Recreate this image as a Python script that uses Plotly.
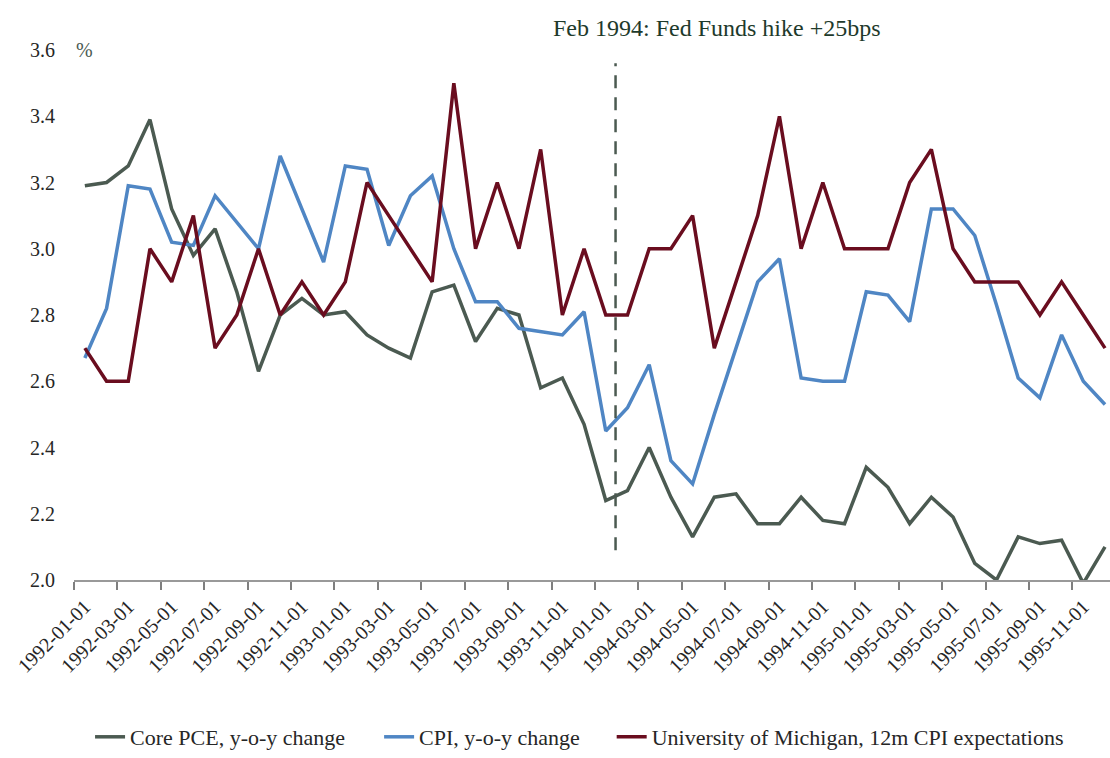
import plotly.graph_objects as go

# ---------------- data ----------------
months = [f"{y}-{m:02d}-01" for y in range(1992, 1996) for m in range(1, 13)]

core_pce = [3.19, 3.20, 3.25, 3.39, 3.12, 2.98, 3.06, 2.87, 2.63, 2.80, 2.85, 2.80,
            2.81, 2.74, 2.70, 2.67, 2.87, 2.89, 2.72, 2.82, 2.80, 2.58, 2.61, 2.47,
            2.24, 2.27, 2.40, 2.25, 2.13, 2.25, 2.26, 2.17, 2.17, 2.25, 2.18, 2.17,
            2.34, 2.28, 2.17, 2.25, 2.19, 2.05, 2.00, 2.13, 2.11, 2.12, 1.99, 2.10]

cpi = [2.67, 2.82, 3.19, 3.18, 3.02, 3.01, 3.16, 3.08, 3.00, 3.28, 3.12, 2.96,
       3.25, 3.24, 3.01, 3.16, 3.22, 3.00, 2.84, 2.84, 2.76, 2.75, 2.74, 2.81,
       2.45, 2.52, 2.65, 2.36, 2.29, 2.50, 2.70, 2.90, 2.97, 2.61, 2.60, 2.60,
       2.87, 2.86, 2.78, 3.12, 3.12, 3.04, 2.83, 2.61, 2.55, 2.74, 2.60, 2.53]

umich = [2.7, 2.6, 2.6, 3.0, 2.9, 3.1, 2.7, 2.8, 3.0, 2.8, 2.9, 2.8,
         2.9, 3.2, 3.1, 3.0, 2.9, 3.5, 3.0, 3.2, 3.0, 3.3, 2.8, 3.0,
         2.8, 2.8, 3.0, 3.0, 3.1, 2.7, 2.9, 3.1, 3.4, 3.0, 3.2, 3.0,
         3.0, 3.0, 3.2, 3.3, 3.0, 2.9, 2.9, 2.9, 2.8, 2.9, 2.8, 2.7]

series_names = ["Core PCE, y-o-y change", "CPI, y-o-y change",
                "University of Michigan, 12m CPI expectations"]
y_tick_values = [2.0, 2.2, 2.4, 2.6, 2.8, 3.0, 3.2, 3.4, 3.6]

hike_label = "Feb 1994: Fed Funds hike +25bps"
hike_position = 24.45          # between 1994-01 and 1994-02 (month index)
hike_span = [2.09, 3.56]       # vertical extent of the dashed marker (in %)

# ---------------- styles ----------------
colors = ["#4b5a51", "#4f86c4", "#6a0d1f"]
legend_ids = ["legend2", "legend3", "legend4"]
legend_x = [0.0155, 0.2945, 0.5190]
FONT = "Liberation Serif"

idx = list(range(len(months)))

fig = go.Figure()
for name, vals, col, leg in zip(series_names, [core_pce, cpi, umich], colors, legend_ids):
    fig.add_trace(go.Scatter(x=idx, y=vals, mode="lines", name=name, showlegend=True,
                             line=dict(color=col, width=3.5), legend=leg,
                             hoverinfo="x+y+name"))

fig.add_shape(type="line", xref="x", yref="y",
              x0=hike_position, x1=hike_position, y0=hike_span[0], y1=hike_span[1],
              line=dict(color="#4b5a51", width=2.5, dash="13px,9px"))

legend_common = dict(orientation="h", y=-0.2966, xanchor="left", yanchor="middle",
                     bgcolor="rgba(0,0,0,0)", font=dict(family=FONT, size=22, color="#262626"))

fig.update_layout(
    width=1110, height=758,
    margin=dict(l=74, r=0, t=50, b=172),
    plot_bgcolor="white", paper_bgcolor="white",
    font=dict(family=FONT, size=20, color="#262626"),
    xaxis=dict(range=[-0.5, 47.23], tickmode="array", tickvals=idx[::2], ticktext=months[::2],
               tickangle=-45, ticks="", showline=True, linecolor="#999999", linewidth=2,
               showgrid=False, zeroline=False, tickfont=dict(size=20), ticklabelstandoff=5,
               minor=dict(ticks="outside", tick0=-0.5, dtick=2, ticklen=8,
                          tickcolor="#7f7f7f", tickwidth=1.5, showgrid=False)),
    yaxis=dict(range=[2.0, 3.6], tickmode="array", tickvals=y_tick_values, tickformat=".1f",
               showgrid=False, zeroline=False, showline=False, ticks="",
               ticklabelstandoff=18, tickfont=dict(size=20)),
    showlegend=True,
    legend2=dict(x=legend_x[0], **legend_common),
    legend3=dict(x=legend_x[1], **legend_common),
    legend4=dict(x=legend_x[2], **legend_common),
    annotations=[
        dict(text="%", xref="paper", yref="paper", x=0.0, y=1.0, xanchor="left",
             yanchor="middle", showarrow=False, font=dict(family=FONT, size=20, color="#4b5a51")),
        dict(text=hike_label, xref="paper", yref="paper", x=0.6207, y=1.041,
             xanchor="center", yanchor="middle", showarrow=False,
             font=dict(family=FONT, size=24, color="#1e3a2b")),
    ],
)

fig.write_html("out.html", config={"displayModeBar": False},
               post_script="document.body.style.margin='0';document.body.style.overflow='hidden';")
